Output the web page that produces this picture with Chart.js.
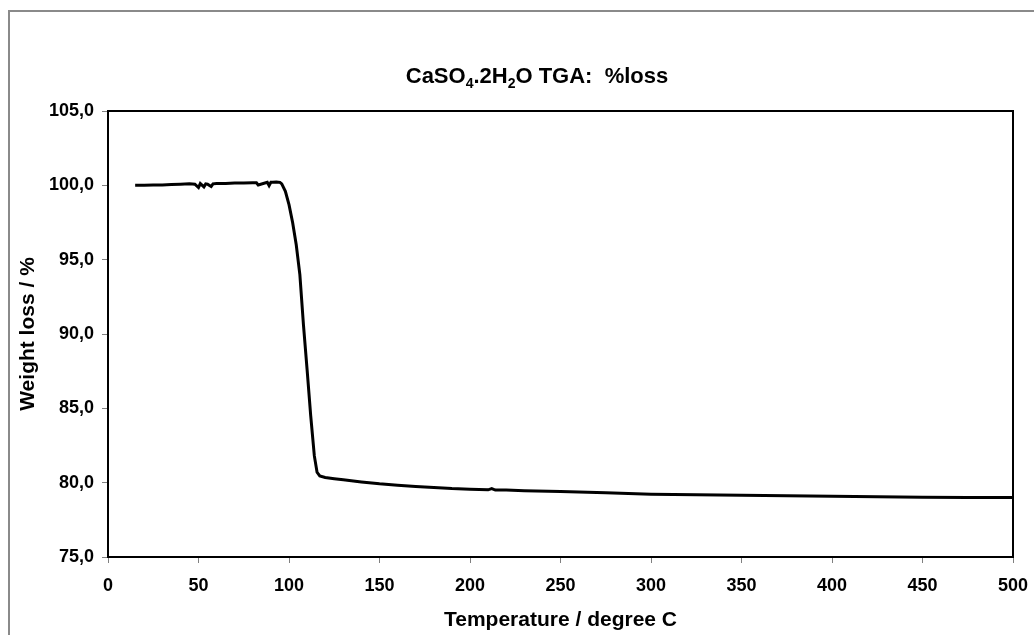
<!DOCTYPE html>
<html>
<head>
<meta charset="utf-8">
<script src="https://cdn.jsdelivr.net/npm/chart.js@4"></script>
<style>
  html, body { margin: 0; padding: 0; background: #fff; overflow: hidden; }
  #frame {
    position: absolute; left: 8px; top: 10px; width: 1100px; height: 700px;
    border-left: 2px solid #8a8a8a; border-top: 2px solid #8a8a8a;
  }
  #wrap { position: absolute; left: 0; top: 0; width: 1034px; height: 635px; }
</style>
</head>
<body>
<div id="frame"></div>
<div id="wrap"><canvas id="myChart"></canvas></div>
<script>
// TGA curve
const temperature = [
  15, 20, 25, 30, 35, 40, 45, 48, 50, 51, 53, 54, 55, 57, 58, 60, 65, 70, 75, 80,
  82, 83, 88, 89, 90, 91, 93, 95, 96, 98, 100, 102, 104, 106, 108, 110, 112, 114,
  115.5, 117, 120, 125, 130, 140, 150, 160, 170, 180, 190, 200, 210, 212, 214, 220,
  230, 250, 275, 300, 325, 350, 375, 400, 425, 450, 475, 500
];
const weight = [
  100.00, 100.00, 100.02, 100.03, 100.05, 100.07, 100.10, 100.08, 99.85, 100.12, 99.90, 100.10, 100.08, 99.92, 100.10, 100.12, 100.12, 100.15, 100.15, 100.17,
  100.17, 100.02, 100.20, 99.98, 100.20, 100.20, 100.22, 100.20, 100.10, 99.60, 98.70, 97.50, 96.00, 94.00, 90.60, 87.60, 84.50, 81.80,
  80.70, 80.45, 80.35, 80.27, 80.20, 80.05, 79.92, 79.83, 79.75, 79.68, 79.60, 79.55, 79.52, 79.60, 79.50, 79.50,
  79.46, 79.40, 79.32, 79.22, 79.18, 79.15, 79.12, 79.08, 79.05, 79.02, 79.00, 79.00
];
const xTicks = [0, 50, 100, 150, 200, 250, 300, 350, 400, 450, 500];
const yTicks = [75, 80, 85, 90, 95, 100, 105];
const titleParts = [
  ['CaSO', false], ['4', true], ['.2H', false], ['2', true], ['O TGA:  %loss', false]
];

const fontFamily = '"Liberation Sans", Arial, sans-serif';

// title with subscripts and the black frame round the plot area
const extras = {
  id: 'extras',
  afterDraw(chart) {
    const ctx = chart.ctx;
    const a = chart.chartArea;
    ctx.save();
    ctx.strokeStyle = '#000';
    ctx.lineWidth = 2;
    ctx.strokeRect(a.left, a.top, a.right - a.left, a.bottom - a.top);

    const big = 'bold 22px ' + fontFamily;
    const small = 'bold 14px ' + fontFamily;
    let total = 0;
    titleParts.forEach(p => {
      ctx.font = p[1] ? small : big;
      total += ctx.measureText(p[0]).width;
    });
    let x = 537 - total / 2;
    const base = 83;
    ctx.fillStyle = '#000';
    ctx.textBaseline = 'alphabetic';
    ctx.textAlign = 'left';
    titleParts.forEach(p => {
      ctx.font = p[1] ? small : big;
      ctx.fillText(p[0], x, p[1] ? base + 5 : base);
      x += ctx.measureText(p[0]).width;
    });
    ctx.restore();
  }
};

const points = temperature.map((t, i) => ({ x: t, y: weight[i] }));

new Chart(document.getElementById('myChart'), {
  type: 'line',
  data: {
    datasets: [{
      data: points,
      borderColor: '#000',
      borderWidth: 3,
      pointRadius: 0,
      tension: 0,
      fill: false
    }]
  },
  options: {
    responsive: true,
    maintainAspectRatio: false,
    animation: false,
    layout: { padding: { top: 111, right: 21, left: 0, bottom: 0 } },
    plugins: {
      legend: { display: false },
      tooltip: { enabled: false }
    },
    scales: {
      x: {
        type: 'linear',
        min: 0,
        max: 500,
        afterFit(scale) {
          scale.height = 78;
          scale.paddingLeft = 0;
          scale.paddingRight = 0;
        },
        afterBuildTicks(scale) { scale.ticks = xTicks.map(v => ({ value: v })); },
        border: { display: false },
        grid: { drawOnChartArea: false, drawTicks: true, tickLength: 6, color: '#808080' },
        ticks: {
          color: '#000',
          padding: 12,
          maxRotation: 0,
          font: { family: fontFamily, size: 18, weight: 'bold' }
        },
        title: {
          display: true,
          text: 'Temperature / degree C',
          color: '#000',
          padding: { top: 0, bottom: 2 },
          font: { family: fontFamily, size: 21, weight: 'bold' }
        }
      },
      y: {
        min: 75,
        max: 105,
        afterFit(scale) {
          scale.width = 108;
          scale.paddingTop = 0;
          scale.paddingBottom = 0;
        },
        afterBuildTicks(scale) { scale.ticks = yTicks.map(v => ({ value: v })); },
        border: { display: false },
        grid: { drawOnChartArea: false, drawTicks: true, tickLength: 6, color: '#808080' },
        ticks: {
          color: '#000',
          padding: 8,
          font: { family: fontFamily, size: 18, weight: 'bold' },
          callback: v => v.toFixed(1).replace('.', ',')
        },
        title: {
          display: true,
          text: 'Weight loss / %',
          color: '#000',
          padding: { top: 16, bottom: 0 },
          font: { family: fontFamily, size: 21, weight: 'bold' }
        }
      }
    }
  },
  plugins: [extras]
});
</script>
</body>
</html>
